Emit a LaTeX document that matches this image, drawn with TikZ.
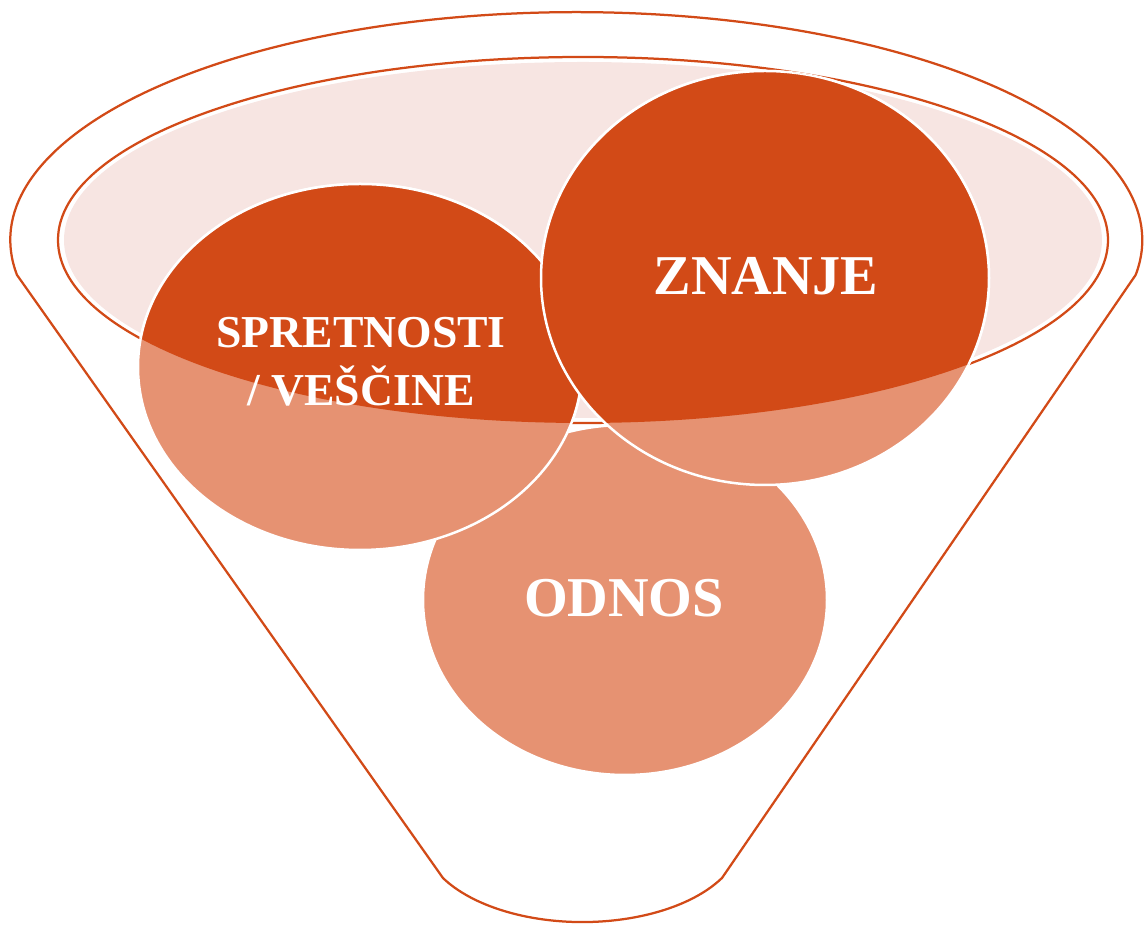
\documentclass[tikz,border=0pt]{standalone}
\usepackage{fontspec}
\setmainfont{Liberation Serif}
\usepackage{tikz}
\definecolor{rust}{HTML}{D24A17}
\definecolor{rustlight}{HTML}{E69272}
\definecolor{blush}{HTML}{F7E5E2}
\def\bubbles#1{%
	\filldraw[fill=#1, draw=white, line width=0.5mm] (625, 326) ellipse [x radius=202, y radius=175];
	\filldraw[fill=#1, draw=white, line width=0.5mm] (360, 559) ellipse [x radius=222, y radius=183];
	\filldraw[fill=#1, draw=white, line width=0.5mm] (765, 648) ellipse [x radius=224, y radius=207];}

\begin{document}
\begin{tikzpicture}[x=0.02cm, y=0.02cm, bubble text/.style={text=white}]
		%%%%% START %%%%%
		\useasboundingbox (0, 0) rectangle (1144, 926);
		
		\draw[line width=0.45mm, color=rust] (17, 651) arc [start angle=188.8, end angle=-8.8, x radius=566, y radius=228] -- (722, 48) arc [start angle=-29.3, end angle=-150.7, x radius=160, y radius=86.3] -- cycle;
		
		\draw[line width=0.45mm, color=rust] (583, 686) ellipse [x radius=525, y radius=183];
		\fill[blush] (583, 686) ellipse [x radius=519, y radius=178];
		
		\bubbles{rustlight}
		\begin{scope}
			\clip (583, 686) ellipse [x radius=525, y radius=183];
			\bubbles{rust}
		\end{scope}
		
		\node[bubble text, font=\bfseries\fontsize{32}{38}\selectfont, anchor=base] (znanje) at (766, 631) {ZNANJE};
		\node[bubble text, font=\bfseries\fontsize{32}{38}\selectfont, anchor=base] (odnos) at (624, 309) {ODNOS};
		\node[bubble text, font=\bfseries\fontsize{26}{33}\selectfont, align=center] (spretnosti) at (361, 564) {SPRETNOSTI\\/ VEŠČINE};
		
		%%%%% END %%%%%
\end{tikzpicture}
\end{document}
